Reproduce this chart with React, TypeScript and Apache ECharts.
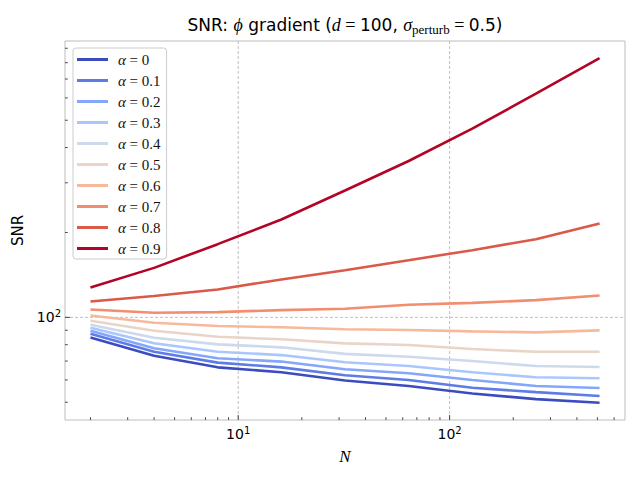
import React, { useEffect, useRef } from "react";
import * as echarts from "echarts";

const N_VALUES = [2, 4, 8, 16, 32, 64, 128, 256, 512];
const ALPHAS = ["0", "0.1", "0.2", "0.3", "0.4", "0.5", "0.6", "0.7", "0.8", "0.9"];
const SNR_A00 = [84.9, 73.1, 66.5, 63.9, 59.7, 57.1, 53.7, 51.3, 49.8];
const SNR_A01 = [87.5, 75.5, 69.1, 66.5, 62.3, 60.0, 56.3, 54.3, 52.6];
const SNR_A02 = [89.7, 77.7, 71.6, 69.7, 65.5, 63.4, 60.0, 57.1, 56.2];
const SNR_A03 = [91.9, 80.9, 75.5, 73.5, 69.3, 67.2, 63.9, 61.3, 60.8];
const SNR_A04 = [94.1, 84.7, 80.2, 78.3, 74.2, 72.5, 70.0, 67.2, 66.7];
const SNR_A05 = [97.3, 89.7, 85.4, 83.6, 80.9, 79.8, 77.2, 75.5, 75.5];
const SNR_A06 = [101.6, 95.7, 93.2, 92.2, 90.7, 90.2, 89.2, 88.5, 89.9];
const SNR_A07 = [106.7, 103.8, 104.4, 106.1, 107.3, 110.8, 112.6, 115.1, 119.5];
const SNR_A08 = [113.9, 119.0, 125.6, 136.3, 147.0, 159.5, 173.1, 189.3, 215.1];
const SNR_A09 = [127.7, 149.8, 181.8, 222.3, 281.7, 358.4, 466.7, 621.0, 829.6];
const SERIES_VALUES = [SNR_A00, SNR_A01, SNR_A02, SNR_A03, SNR_A04, SNR_A05, SNR_A06, SNR_A07, SNR_A08, SNR_A09];
const COLORS = ["#3b4cc0", "#5d7ce6", "#84a7fc", "#aac7fd", "#cdd9ec", "#ead4c8", "#f7b89c", "#f18e70", "#da5948", "#b40426"];

const X_MAJOR = [10, 100];
const X_MINOR = [2, 3, 4, 5, 6, 7, 8, 9, 20, 30, 40, 50, 60, 70, 80, 90, 200, 300, 400, 500, 600];
const Y_MAJOR = [100];
const Y_MINOR = [50, 60, 70, 80, 90, 200, 300, 400, 500, 600, 700, 800, 900];

const X_MIN = 1.5157;
const X_MAX = 675.5;
const Y_MIN = 43.26;
const Y_MAX = 954.9;

function powLabel(v: number): string {
  const l = Math.log10(v);
  const r = Math.round(l);
  if (Math.abs(l - r) < 1e-6) return `{b|10}{p|${r}}`;
  return "";
}

const TICK_RICH = {
  b: { fontFamily: "DejaVu Sans", fontSize: 14, lineHeight: 18, color: "#000" },
  p: { fontFamily: "DejaVu Sans", fontSize: 10, lineHeight: 10, verticalAlign: "top", color: "#000" },
};

export default function App() {
  const ref = useRef<HTMLDivElement>(null);
  useEffect(() => {
    document.body.style.margin = "0";
    if (!ref.current) return;
    const chart = echarts.init(ref.current, undefined, { renderer: "svg" });

    const lineSeries = ALPHAS.map((a, i) => ({
      name: a,
      type: "line",
      data: N_VALUES.map((n, j) => [n, SERIES_VALUES[i][j]]),
      symbol: "none",
      lineStyle: { color: COLORS[i], width: 2.6 },
      itemStyle: { color: COLORS[i] },
      z: 3,
    }));

    const gridData = [
      ...X_MAJOR.map((v) => [v, 100, 0]),
      ...Y_MAJOR.map((v) => [10, v, 1]),
    ];
    const tickData = [
      ...X_MAJOR.map((v) => [v, 100, 5, 0]),
      ...X_MINOR.map((v) => [v, 100, 2.8, 0]),
      ...Y_MAJOR.map((v) => [10, v, 5, 1]),
      ...Y_MINOR.map((v) => [10, v, 2.8, 1]),
    ];

    const option: any = {
      animation: false,
      backgroundColor: "#ffffff",
      grid: {
        left: 65,
        top: 41,
        right: 15,
        bottom: 60,
        show: true,
        borderColor: "#bdbdbd",
        borderWidth: 1,
        backgroundColor: "#ffffff",
      },
      xAxis: {
        type: "log",
        logBase: 10,
        min: X_MIN,
        max: X_MAX,
        name: "N",
        nameLocation: "middle",
        nameGap: 28,
        nameTextStyle: { fontFamily: "Liberation Serif", fontStyle: "italic", fontSize: 17, color: "#000" },
        axisLine: { show: false },
        axisTick: { show: false },
        splitLine: { show: false },
        axisLabel: {
          formatter: (v: number) => powLabel(v),
          margin: 5,
          rich: TICK_RICH,
          hideOverlap: false,
        },
      },
      yAxis: {
        type: "log",
        logBase: 10,
        min: Y_MIN,
        max: Y_MAX,
        name: "SNR",
        nameLocation: "middle",
        nameGap: 34,
        nameRotate: 90,
        nameTextStyle: { fontFamily: "DejaVu Sans", fontSize: 15, color: "#000" },
        axisLine: { show: false },
        axisTick: { show: false },
        splitLine: { show: false },
        axisLabel: {
          formatter: (v: number) => powLabel(v),
          margin: 4,
          rich: TICK_RICH,
        },
      },
      legend: {
        orient: "vertical",
        left: 73,
        top: 48,
        padding: [4, 6, 3, 4],
        icon: "rect",
        itemWidth: 31,
        itemHeight: 3,
        itemGap: 6,
        backgroundColor: "rgba(255,255,255,0.8)",
        borderColor: "#cccccc",
        borderWidth: 1,
        borderRadius: 3,
        data: ALPHAS,
        formatter: (name: string) => `{a|α}{r| = ${name}}`,
        textStyle: {
          color: "#111",
          fontFamily: "Liberation Serif",
          fontSize: 15,
          lineHeight: 14,
          rich: {
            a: { fontFamily: "Liberation Serif", fontStyle: "italic", fontSize: 15, lineHeight: 14, padding: [0, 0, 0, 5], color: "#111" },
            r: { fontFamily: "Liberation Serif", fontSize: 15, lineHeight: 14, color: "#111" },
          },
        },
      },
      graphic: [
        {
          type: "text",
          x: 345,
          y: 25,
          z: 10,
          style: {
            text:
              "{s|SNR: }{m|ϕ}{s| gradient (}{m|d}{e| = }{s|100, }{m|σ}{sub|perturb}{e| = }{s|0.5)}",
            align: "center",
            verticalAlign: "middle",
            fill: "#000",
            rich: {
              s: { fontFamily: "DejaVu Sans", fontSize: 17, lineHeight: 22, fill: "#000" },
              m: { fontFamily: "Liberation Serif", fontStyle: "italic", fontSize: 18, lineHeight: 22, fill: "#000" },
              e: { fontFamily: "Liberation Serif", fontSize: 18, lineHeight: 22, fill: "#000" },
              sub: { fontFamily: "Liberation Serif", fontSize: 13, lineHeight: 12, verticalAlign: "bottom", fill: "#000" },
            },
          },
        },
      ],
      series: [
        {
          type: "custom",
          name: "grid",
          z: 1,
          silent: true,
          data: gridData,
          renderItem: (params: any, api: any) => {
            const cs = params.coordSys;
            const kind = api.value(2);
            if (kind === 0) {
              const px = api.coord([api.value(0), 100])[0];
              return {
                type: "line",
                shape: { x1: px, y1: cs.y, x2: px, y2: cs.y + cs.height },
                style: { stroke: "#b0b0b0", lineWidth: 0.8, lineDash: [3, 2] },
              };
            }
            const py = api.coord([10, api.value(1)])[1];
            return {
              type: "line",
              shape: { x1: cs.x, y1: py, x2: cs.x + cs.width, y2: py },
              style: { stroke: "#b0b0b0", lineWidth: 0.8, lineDash: [3, 2] },
            };
          },
        },
        {
          type: "custom",
          name: "ticks",
          z: 5,
          silent: true,
          data: tickData,
          renderItem: (params: any, api: any) => {
            const cs = params.coordSys;
            const len = api.value(2);
            const axis = api.value(3);
            if (axis === 0) {
              const px = api.coord([api.value(0), 100])[0];
              const yb = cs.y + cs.height;
              return {
                type: "line",
                shape: { x1: px, y1: yb, x2: px, y2: yb - len },
                style: { stroke: "#222", lineWidth: 0.8 },
              };
            }
            const py = api.coord([10, api.value(1)])[1];
            return {
              type: "line",
              shape: { x1: cs.x, y1: py, x2: cs.x + len, y2: py },
              style: { stroke: "#222", lineWidth: 0.8 },
            };
          },
        },
        ...lineSeries,
      ],
    };

    chart.setOption(option);
    return () => chart.dispose();
  }, []);

  return <div ref={ref} style={{ width: 640, height: 480 }} />;
}
